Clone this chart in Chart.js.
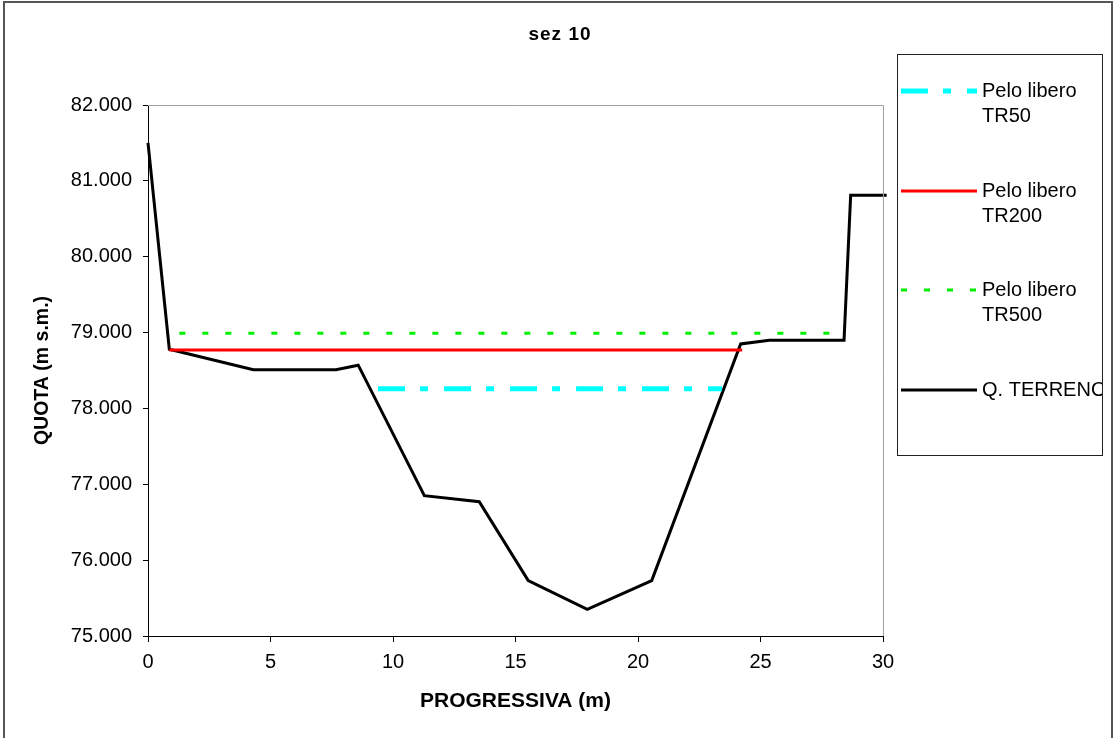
<!DOCTYPE html>
<html>
<head>
<meta charset="utf-8">
<title>sez 10</title>
<script src="https://cdn.jsdelivr.net/npm/chart.js@4.4.1/dist/chart.umd.min.js"></script>
<style>
    html, body { margin: 0; padding: 0; background: #fff; }
    #wrap { width: 1115px; height: 738px; }
</style>
</head>
<body>
<div id="wrap"><canvas id="sezChart" width="1115" height="738"></canvas></div>
<script>
// Data
const terrenoX = [0, 0.87, 4.3, 7.67, 8.58, 11.28, 13.52, 15.52, 17.93, 20.56, 24.19, 25.36, 28.41, 28.68, 30.15];
const terrenoY = [81.5, 78.78, 78.51, 78.51, 78.57, 76.85, 76.77, 75.73, 75.35, 75.73, 78.85, 78.9, 78.9, 80.81, 80.81];
const tr50X = [9.39, 23.43];
const tr50Y = [78.26, 78.26];
const tr200X = [0.87, 24.25];
const tr200Y = [78.77, 78.77];
const tr500X = [1.28, 28.45];
const tr500Y = [78.99, 78.99];
const xTicks = [0, 5, 10, 15, 20, 25, 30];
const yTicks = [75, 76, 77, 78, 79, 80, 81, 82];

const FONT = '"Liberation Sans", Arial, sans-serif';

// Build {x,y} points
function toPoints(xs, ys) {
    return xs.map((x, i) => ({ x: x, y: ys[i] }));
}

// Frame, title, plot border and legend box
const decorPlugin = {
    id: 'decor',
    beforeDraw(chart) {
        const ctx = chart.ctx;
        ctx.save();
        ctx.fillStyle = '#fff';
        ctx.fillRect(0, 0, chart.width, chart.height);
        ctx.restore();
    },
    afterDraw(chart) {
        const ctx = chart.ctx;
        const area = chart.chartArea;
        ctx.save();

        // outer frame
        ctx.strokeStyle = '#555';
        ctx.lineWidth = 2;
        ctx.strokeRect(4, 2, 1108, 745);

        // gray top / right border of plot area
        ctx.strokeStyle = '#a0a0a0';
        ctx.lineWidth = 1;
        ctx.beginPath();
        ctx.moveTo(area.left, area.top + 0.5);
        ctx.lineTo(area.right + 0.5, area.top + 0.5);
        ctx.lineTo(area.right + 0.5, area.bottom);
        ctx.stroke();

        // title
        ctx.fillStyle = '#000';
        ctx.font = 'bold 19px ' + FONT;
        ctx.letterSpacing = '1px';
        ctx.textAlign = 'center';
        ctx.textBaseline = 'middle';
        ctx.fillText('sez 10', 560, 35);
        ctx.letterSpacing = '0px';

        // legend box
        ctx.strokeStyle = '#222';
        ctx.lineWidth = 1;
        ctx.strokeRect(897.5, 54.5, 205, 401);

        const entries = [
            { ds: 0, lines: ['Pelo libero', 'TR50'], y: 91 },
            { ds: 1, lines: ['Pelo libero', 'TR200'], y: 191 },
            { ds: 2, lines: ['Pelo libero', 'TR500'], y: 290 },
            { ds: 3, lines: ['Q. TERRENO'], y: 390 }
        ];
        ctx.font = '20px ' + FONT;
        ctx.textAlign = 'left';
        ctx.beginPath();
        ctx.rect(897, 54, 205, 401);
        ctx.clip();
        entries.forEach(e => {
            const ds = chart.data.datasets[e.ds];
            ctx.save();
            ctx.strokeStyle = ds.borderColor;
            ctx.lineWidth = ds.borderWidth;
            ctx.setLineDash(ds.borderDash || []);
            ctx.beginPath();
            ctx.moveTo(901, e.y);
            ctx.lineTo(977, e.y);
            ctx.stroke();
            ctx.restore();
            e.lines.forEach((t, i) => {
                ctx.fillText(t, 982, e.y + i * 25);
            });
        });

        ctx.restore();
    }
};

const chart = new Chart(document.getElementById('sezChart').getContext('2d'), {
    type: 'line',
    data: {
        datasets: [
            {
                label: 'Pelo libero TR50',
                data: toPoints(tr50X, tr50Y),
                borderColor: 'rgb(0,255,255)',
                borderWidth: 5,
                borderDash: [27, 15, 8, 16]
            },
            {
                label: 'Pelo libero TR200',
                data: toPoints(tr200X, tr200Y),
                borderColor: 'rgb(255,0,0)',
                borderWidth: 3
            },
            {
                label: 'Pelo libero TR500',
                data: toPoints(tr500X, tr500Y),
                borderColor: 'rgb(0,240,0)',
                borderWidth: 3,
                borderDash: [6, 17]
            },
            {
                label: 'Q. TERRENO',
                data: toPoints(terrenoX, terrenoY),
                borderColor: '#000',
                borderWidth: 3,
                clip: false
            }
        ]
    },
    options: {
        responsive: false,
        animation: false,
        events: [],
        elements: {
            point: { radius: 0 },
            line: { tension: 0, fill: false, borderCapStyle: 'butt' }
        },
        layout: { padding: { left: 0, top: 105, right: 232, bottom: 0 } },
        plugins: {
            legend: { display: false },
            title: { display: false },
            tooltip: { enabled: false }
        },
        scales: {
            x: {
                type: 'linear',
                min: 0,
                max: 30,
                afterBuildTicks: scale => { scale.ticks = xTicks.map(v => ({ value: v })); },
                afterFit: scale => { scale.height = 102; },
                ticks: {
                    color: '#000',
                    padding: 8,
                    font: { family: FONT, size: 20 }
                },
                grid: { drawOnChartArea: false, tickLength: 6, color: '#000' },
                border: { color: '#000', width: 1 },
                title: {
                    display: true,
                    text: 'PROGRESSIVA (m)',
                    color: '#000',
                    padding: { top: 0, bottom: 24 },
                    font: { family: FONT, size: 21, weight: 'bold' }
                }
            },
            y: {
                type: 'linear',
                min: 75,
                max: 82,
                afterBuildTicks: scale => { scale.ticks = yTicks.map(v => ({ value: v })); },
                afterFit: scale => { scale.width = 148; },
                ticks: {
                    color: '#000',
                    padding: 11,
                    font: { family: FONT, size: 20 },
                    callback: v => v.toFixed(3)
                },
                grid: { drawOnChartArea: false, tickLength: 5, color: '#000' },
                border: { color: '#000', width: 1 },
                title: {
                    display: true,
                    text: 'QUOTA (m s.m.)',
                    color: '#000',
                    padding: { top: 31, bottom: 0 },
                    font: { family: FONT, size: 19.5, weight: 'bold' }
                }
            }
        }
    },
    plugins: [decorPlugin]
});
</script>
</body>
</html>
